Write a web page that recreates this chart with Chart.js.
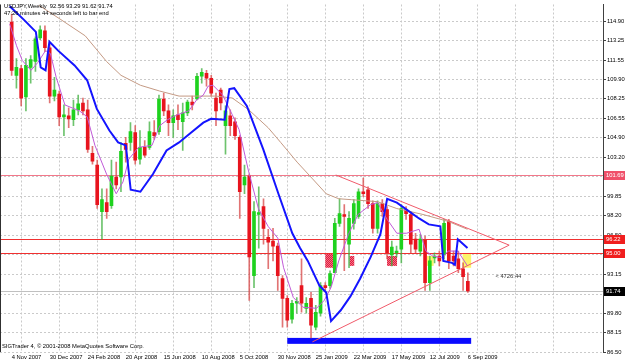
<!DOCTYPE html>
<html>
<head>
<meta charset="utf-8">
<script src="https://cdn.jsdelivr.net/npm/chart.js@4.4.0/dist/chart.umd.min.js"></script>
<style>
html, body { margin: 0; padding: 0; background: #fff; }
</style>
</head>
<body>
<canvas id="grafico" width="625" height="363"></canvas>
<script>
// USDJPY semanal, barra 0 = semana del 4 Nov 2007
var opens = [114.82,110.24,110.83,108.38,110.92,111.43,113.46,114.05,112.61,108.46,
  108.63,106.68,106.77,106.43,107.28,107.87,107.28,103.55,102.53,98.55,
  99.32,99.06,101.52,101.52,104.40,104.48,105.33,103.04,104.06,104.06,
  105.33,105.41,108.21,107.19,106.18,106.85,106.26,107.02,107.95,108.21,
  110.16,110.41,109.99,108.29,108.97,105.92,106.77,106.26,104.91,100.84,
  101.60,93.05,98.30,98.98,96.35,96.01,95.59,92.79,91.10,89.32,
  90.68,92.20,90.25,91.10,88.64,89.83,92.20,92.20,93.30,97.54,
  98.30,95.76,97.54,98.13,100.25,100.42,99.23,97.11,99.23,98.72,
  94.83,95.00,95.33,98.72,98.30,96.18,95.16,96.10,92.45,94.57,
  94.74,94.83,97.71,94.74,94.49,93.64,92.56];
var highs = [115.49,111.68,111.09,111.68,111.94,113.54,114.48,114.48,112.95,110.07,
  108.89,107.70,107.45,108.12,108.55,108.29,108.12,104.14,102.96,100.50,
  100.50,102.96,102.79,104.48,104.91,106.18,105.92,105.50,104.65,106.26,
  106.35,108.55,108.72,107.70,107.28,107.70,107.87,108.12,108.46,110.41,
  110.83,110.67,110.24,108.72,109.14,107.62,107.28,106.60,105.07,102.53,
  101.77,99.40,100.67,99.65,97.03,97.11,95.84,93.05,91.35,90.93,
  91.18,94.49,91.18,91.61,90.51,92.45,92.45,93.47,97.96,99.65,
  99.15,98.55,99.57,100.50,101.43,100.67,99.48,99.48,99.57,98.98,
  96.01,95.59,99.15,98.98,98.55,96.69,96.60,96.44,94.74,95.00,
  95.16,97.88,97.88,95.16,95.16,94.15,93.29];
var lows = [110.24,109.14,107.62,107.19,109.56,110.58,113.29,112.27,107.87,108.04,
  105.92,105.07,105.75,105.92,106.85,106.85,103.63,102.62,98.81,96.18,
  97.96,98.81,100.50,100.25,102.79,103.80,102.62,102.62,103.21,103.89,
  104.74,105.16,106.77,105.07,104.91,105.58,103.80,106.77,107.28,108.12,
  109.56,109.31,108.46,105.92,107.28,103.47,105.07,104.74,97.96,100.08,
  90.93,92.03,95.42,95.76,93.64,94.32,91.78,88.64,88.64,88.98,
  89.83,89.91,89.83,87.71,88.39,89.57,91.78,91.95,93.30,97.28,
  93.47,93.73,97.03,97.96,99.82,98.81,96.69,96.69,98.13,94.49,
  93.89,94.66,94.15,97.88,95.00,95.00,94.74,91.78,91.78,94.15,
  93.89,94.49,93.64,93.89,93.30,91.78,91.62];
var closes = [110.67,110.92,108.29,111.09,111.60,113.38,114.14,112.61,108.46,108.97,
  106.68,106.85,106.51,107.28,107.79,107.19,103.89,102.87,99.15,99.57,
  98.55,101.60,100.84,103.72,103.89,105.41,102.96,104.06,103.38,105.41,
  105.07,108.21,107.19,106.18,106.77,106.43,107.02,107.95,107.70,110.16,
  110.50,109.99,108.72,107.19,107.87,107.19,105.92,105.07,100.25,101.52,
  94.66,98.55,98.47,97.11,95.93,95.59,93.05,91.10,89.24,90.68,
  90.85,90.68,90.68,88.81,89.91,92.20,92.03,93.22,97.54,98.38,
  98.13,97.96,99.23,100.25,100.08,99.23,97.11,99.23,98.55,95.00,
  95.50,95.16,98.81,98.38,95.76,95.33,96.18,92.45,94.32,94.74,
  94.32,97.54,94.32,94.32,93.64,92.96,91.74];

// fechas del eje (una cada 8 semanas)
var fechas = ["4 Nov 2007", "30 Dec 2007", "24 Feb 2008", "20 Apr 2008", "15 Jun 2008",
  "10 Aug 2008", "5 Oct 2008", "30 Nov 2008", "25 Jan 2009", "22 Mar 2009",
  "17 May 2009", "12 Jul 2009", "6 Sep 2009"];
var preciosEje = [114.90, 113.25, 111.55, 109.90, 108.25, 106.55, 104.90, 103.20, 101.55,
  99.85, 98.20, 96.50, 94.85, 93.15, 91.45, 89.80, 88.15, 86.50];

// medias moviles (barra, precio)
var azulX = [-0.41,2.65,5.09,6.11,7.13,7.94,9.78,13.24,15.89,17.92,20.57,22.40,24.03,25.05,27.09,
  29.74,32.59,35.23,37.27,40.33,41.96,44.81,45.82,46.84,49.49,52.95,56.21,59.06,60.69,62.32,
  64.77,66.19,67.21,69.25,71.28,73.32,75.56,77.60,79.02,81.06,83.71,85.74,87.78,90.22,90.84,
  92.67,93.28,93.89,95.93];
var azulY = [116.17,114.98,113.97,110.92,110.67,113.12,112.36,111.09,109.82,107.36,105.50,104.48,104.23,100.42,100.25,
  101.77,103.80,104.48,105.16,106.18,106.51,106.43,109.06,109.14,107.62,103.89,99.99,96.69,95.42,94.32,
  92.20,91.61,89.15,90.08,91.27,92.79,94.66,96.61,99.65,99.32,98.55,97.96,97.45,97.28,94.32,
  94.15,93.98,96.18,95.42];
var violetaX = [-0.41,1.02,2.24,4.07,5.50,7.13,8.15,9.37,11.20,14.26,15.89,17.52,19.96,22.00,23.42,
  24.64,26.68,29.53,31.16,32.79,34.83,37.27,38.90,40.33,41.34,42.36,44.40,46.44,47.86,49.90,
  51.93,53.97,56.01,57.23,59.27,61.30,64.15,65.78,67.21,68.84,70.88,72.91,75.56,76.99,79.02,
  81.06,83.10,85.74,87.17,88.59,90.63,91.85,93.89,95.93];
var violetaY = [114.65,112.78,111.51,110.67,111.34,112.36,112.11,110.07,107.70,107.19,106.68,104.23,101.77,100.08,101.09,
  103.04,104.06,104.23,105.92,106.43,106.85,107.19,108.12,108.55,109.31,109.39,108.55,106.85,105.58,101.94,
  98.81,97.28,96.27,93.73,91.18,90.34,90.25,90.93,92.03,94.32,96.61,98.30,99.15,99.32,97.88,
  96.69,96.69,97.03,95.16,94.74,94.57,95.16,95.16,93.89];
var marronX = [5.70,10.18,15.48,19.96,23.01,27.09,31.16,35.23,39.31,42.97,46.44,49.90,53.97,56.62,60.08,
  63.34,66.19,68.84,71.49,76.99,81.06,86.56,91.85,95.93];
var marronY = [116.26,115.07,113.63,111.43,110.24,109.39,108.89,108.46,108.46,108.46,108.29,107.28,105.75,104.48,102.79,
  101.35,100.08,99.65,99.57,99.40,98.81,98.30,97.71,97.03];

// objetos dibujados en el grafico
var niveles = [101.69, 96.22, 95.00];
var precioActual = 91.74;
var trianguloSup = [[68.2, 101.69], [104.7, 95.67]];
var trianguloInf = [[63.3, 87.37], [104.7, 95.67]];
var cajasRojas = [[66.0, 67.8, 94.91, 93.73], [71.1, 72.1, 94.74, 93.89], [79.0, 81.1, 94.74, 93.89]];
var cajasAmarillas = [[87.4, 88.8, 94.74, 93.89], [94.9, 96.7, 95.00, 93.73]];
var cajaAzul = [58.0, 96.7, 87.71, 87.20];
var cuentaAtras = [101.8, 92.96, "< 4726:44"];

var FUENTE = '"Liberation Sans", Arial, sans-serif';
var VERDE = "#1ed21e", ROJO = "#e8141e";

var cuerpos = [], mechas = [], colCuerpo = [], colMecha = [];
for (var i = 0; i < opens.length; i++) {
    cuerpos.push({ x: i, y: [opens[i], closes[i]] });
    mechas.push({ x: i, y: [lows[i], highs[i]] });
    var sube = closes[i] >= opens[i];
    colCuerpo.push(sube ? VERDE : ROJO);
    colMecha.push(sube ? "rgba(60,175,60,0.75)" : "rgba(215,70,70,0.75)");
}
function puntos(xs, ys) {
    return xs.map(function (v, k) { return { x: v, y: ys[k] }; });
}

// patron rayado para las cajas rojas
function patronRojo(ctx) {
    var c = document.createElement("canvas");
    c.width = 2; c.height = 2;
    var g = c.getContext("2d");
    g.fillStyle = "#e0203c"; g.fillRect(0, 0, 2, 2);
    g.fillStyle = "#f4708a"; g.fillRect(0, 0, 1, 1); g.fillRect(1, 1, 1, 1);
    return ctx.createPattern(c, "repeat");
}

var objetos = {
    id: "objetos",
    beforeDatasetsDraw: function (chart) {
        var ctx = chart.ctx, sx = chart.scales.x, sy = chart.scales.y, a = chart.chartArea;
        ctx.save();
        ctx.beginPath();
        ctx.rect(a.left, a.top, a.right - a.left, a.bottom - a.top);
        ctx.clip();
        function caja(r, fill) {
            var x1 = sx.getPixelForValue(r[0]), x2 = sx.getPixelForValue(r[1]);
            var y1 = sy.getPixelForValue(r[2]), y2 = sy.getPixelForValue(r[3]);
            ctx.fillStyle = fill;
            ctx.fillRect(x1, y1, x2 - x1, y2 - y1);
        }
        var pat = patronRojo(ctx);
        cajasRojas.forEach(function (r) { caja(r, pat); });
        cajasAmarillas.forEach(function (r) { caja(r, "#fbf56a"); });
        caja(cajaAzul, "#0a0aff");

        var colores = ["#f2788a", "#f03030", "#f03030"];
        ctx.lineWidth = 1;
        ctx.setLineDash([]);
        niveles.forEach(function (p, k) {
            var yy = Math.round(sy.getPixelForValue(p)) + 0.5;
            ctx.strokeStyle = colores[k];
            ctx.beginPath(); ctx.moveTo(a.left, yy); ctx.lineTo(a.right, yy); ctx.stroke();
        });
        var yb = Math.round(sy.getPixelForValue(precioActual)) + 0.5;
        ctx.strokeStyle = "#c0c0c0";
        ctx.beginPath(); ctx.moveTo(a.left, yb); ctx.lineTo(a.right, yb); ctx.stroke();
        ctx.restore();
    },
    afterDatasetsDraw: function (chart) {
        var ctx = chart.ctx, sx = chart.scales.x, sy = chart.scales.y;
        ctx.save();
        ctx.setLineDash([]);
        ctx.strokeStyle = "#f05a6a";
        ctx.lineWidth = 1;
        [trianguloSup, trianguloInf].forEach(function (t) {
            ctx.beginPath();
            ctx.moveTo(sx.getPixelForValue(t[0][0]), sy.getPixelForValue(t[0][1]));
            ctx.lineTo(sx.getPixelForValue(t[1][0]), sy.getPixelForValue(t[1][1]));
            ctx.stroke();
        });
        ctx.fillStyle = "#333";
        ctx.font = "5.8px " + FUENTE;
        ctx.textBaseline = "middle";
        ctx.textAlign = "left";
        ctx.fillText(cuentaAtras[2], sx.getPixelForValue(cuentaAtras[0]), sy.getPixelForValue(cuentaAtras[1]));
        ctx.restore();
    },
    afterDraw: function (chart) {
        var ctx = chart.ctx, sy = chart.scales.y, a = chart.chartArea;
        ctx.save();
        // borde izquierdo
        ctx.strokeStyle = "#303030";
        ctx.beginPath(); ctx.moveTo(0.5, a.top); ctx.lineTo(0.5, a.bottom); ctx.stroke();

        ctx.font = "5.8px " + FUENTE;
        ctx.textBaseline = "middle";
        ctx.textAlign = "left";
        ctx.fillStyle = "#000";
        ctx.fillText("USDJPY,Weekly  92.56 93.29 91.62 91.74", 4, 6);
        ctx.fillText("47:26 minutes 44 seconds left to bar end", 4, 13);
        ctx.fillText("SIGTrader 4, \u00a9 2001-2008 MetaQuotes Software Corp.", 2, 346);

        // etiquetas de precio en el eje
        var etiquetas = [[niveles[0], "#f0506a"], [niveles[1], "#f01e1e"], [niveles[2], "#f01e1e"], [precioActual, "#000"]];
        etiquetas.forEach(function (e) {
            var yy = Math.round(sy.getPixelForValue(e[0]));
            ctx.fillStyle = e[1];
            ctx.fillRect(a.right + 1, yy - 4, 21, 9);
            ctx.fillStyle = "#fff";
            ctx.fillText(e[0].toFixed(2), a.right + 3, yy + 0.5);
        });
        ctx.restore();
    }
};

var ctx = document.getElementById("grafico").getContext("2d");
var miGrafico = new Chart(ctx, {
    type: "bar",
    data: {
        datasets: [
            { type: "line", label: "azul", data: puntos(azulX, azulY), borderColor: "#1414ff", borderWidth: 2, pointRadius: 0, tension: 0, order: 1 },
            { type: "line", label: "violeta", data: puntos(violetaX, violetaY), borderColor: "#c05ad8", borderWidth: 1, pointRadius: 0, tension: 0, order: 2 },
            { type: "line", label: "marron", data: puntos(marronX, marronY), borderColor: "#c49a84", borderWidth: 1, pointRadius: 0, tension: 0, order: 3 },
            { label: "cuerpos", data: cuerpos, backgroundColor: colCuerpo, barThickness: 3, grouped: false, borderWidth: 0, borderSkipped: false, order: 4 },
            { label: "mechas", data: mechas, backgroundColor: colMecha, barThickness: 1, grouped: false, borderWidth: 0, borderSkipped: false, order: 5 }
        ]
    },
    options: {
        responsive: false,
        animation: false,
        devicePixelRatio: 1,
        layout: { padding: 0 },
        plugins: { legend: { display: false }, tooltip: { enabled: false } },
        scales: {
            x: {
                type: "linear",
                min: -0.41,
                max: 122.4,
                afterBuildTicks: function (s) {
                    var t = [];
                    for (var k = 0; k <= 120; k += 4) t.push({ value: k });
                    s.ticks = t;
                },
                afterFit: function (s) { s.height = 11; },
                ticks: {
                    autoSkip: false, maxRotation: 0, align: "start", padding: 2,
                    color: "#000", font: { family: FUENTE, size: 5.8 },
                    callback: function (v) {
                        if (v % 8 === 0 && v / 8 < fechas.length) return fechas[v / 8];
                        return "";
                    }
                },
                grid: {
                    drawTicks: false,
                    color: function (c) { return c.tick && c.tick.value % 8 === 4 ? "#cacaca" : "rgba(0,0,0,0)"; }
                },
                border: { display: false, dash: [2, 2] }
            },
            y: {
                position: "right",
                min: 86.5,
                max: 116.32,
                afterBuildTicks: function (s) {
                    s.ticks = preciosEje.map(function (v) { return { value: v }; });
                },
                afterFit: function (s) { s.width = 22; },
                ticks: {
                    autoSkip: false, padding: 1, color: "#000",
                    font: { family: FUENTE, size: 5.8 },
                    callback: function (v) { return v.toFixed(2); }
                },
                grid: { color: "#cacaca", tickLength: 3, tickColor: "#404040", tickBorderDash: [] },
                border: { display: true, color: "#404040", dash: [2, 2] }
            }
        }
    },
    plugins: [objetos]
});
</script>
</body>
</html>
